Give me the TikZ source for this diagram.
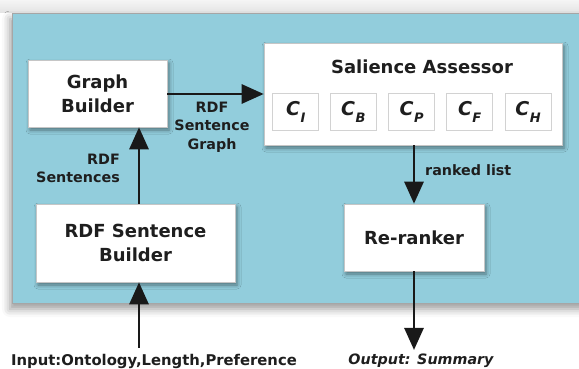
\documentclass[tikz,border=0pt]{standalone}
\usepackage{fontspec}
\setmainfont{DejaVu Sans}
\usetikzlibrary{arrows.meta,shadows.blur,calc}
\definecolor{bgblue}{RGB}{146,205,220}
\definecolor{txt}{RGB}{30,30,30}
\tikzset{
  mainbox/.style={draw=gray!45, fill=white, line width=0.6pt, inner sep=0pt,
    blur shadow={shadow xshift=2pt, shadow yshift=-3pt, shadow blur radius=4pt, shadow opacity=45},
    font=\fontsize{18}{24}\selectfont\bfseries, text=txt, align=center},
  cbox/.style={draw=gray!35, fill=white, line width=0.5pt, minimum width=46pt, minimum height=37pt, inner sep=0pt,
    font=\fontsize{19}{19}\selectfont\bfseries\itshape, text=txt},
  lbl/.style={font=\fontsize{14.3}{18.5}\selectfont\bfseries, text=txt, inner sep=0pt},
  arr/.style={line width=2.8pt, draw=black!90, -{Triangle[length=22pt,width=19pt]}, shorten >=0pt},
}
\newcommand{\csub}[1]{C\kern0.5pt\raisebox{-0.38em}{\fontsize{13}{13}\selectfont #1}}
\begin{document}
\begin{tikzpicture}[x=1pt,y=-1pt]
\useasboundingbox (0,0) rectangle (579,369);
% top band
\shade[top color=gray!8, bottom color=gray!22] (0,0) rectangle (579,13);
% background panel
\fill[bgblue, blur shadow={shadow xshift=-2pt, shadow yshift=-6pt, shadow blur radius=8pt, shadow opacity=40}] (12,13) rectangle (590,303);
\draw[gray!70, line width=0.6pt] (590,13) -- (12,13) -- (12,303) -- (590,303);
% boxes
\node[mainbox, minimum width=139pt, minimum height=67pt] (gb) at (97.5,93.5) {Graph\\Builder};
\node[mainbox, minimum width=298pt, minimum height=102pt] (sa) at (413,94) {};
\node[lbl, font=\fontsize{18}{20}\selectfont\bfseries] (satitle) at (422,67) {Salience Assessor};
\node[mainbox, minimum width=199pt, minimum height=78pt] (rsb) at (135.5,243) {RDF Sentence\\Builder};
\node[mainbox, minimum width=140pt, minimum height=67pt] (rr) at (414,237.5) {Re-ranker};
% criteria boxes
\node[cbox] (ci) at (295.7,112) {\csub{I}};
\node[cbox] (cb) at (353.3,112) {\csub{B}};
\node[cbox] (cp) at (411.7,112) {\csub{P}};
\node[cbox] (cf) at (469.7,112) {\csub{F}};
\node[cbox] (ch) at (528,112) {\csub{H}};
% inputs/outputs
\node[lbl, font=\fontsize{14.8}{18.5}\selectfont\bfseries] (in) at (154,361) {Input:Ontology,Length,Preference};
\node[lbl, font=\fontsize{14.3}{18.5}\selectfont\bfseries\itshape] (out) at (421,361) {Output: Summary};
% arrows
\draw[arr] (gb.east |- 0,94) -- (sa.west |- 0,94);
\draw[arr] ([xshift=3.5pt]rsb.north) -- ([xshift=41.5pt]gb.south);
\draw[arr] ([yshift=6pt]in.north -| 139,0) -- ([xshift=3.5pt]rsb.south);
\draw[arr] (sa.south -| rr.north) -- (rr.north);
\draw[arr] (rr.south) -- ([yshift=4pt]out.north -| rr.south);
% labels
\node[lbl, align=center] (l1) at (212,127) {RDF\\Sentence\\Graph};
\node[lbl, align=right, anchor=east] (l2) at (120,168.5) {RDF\\Sentences};
\node[lbl, anchor=west] (l3) at (425,170) {ranked list};
\end{tikzpicture}
\end{document}
